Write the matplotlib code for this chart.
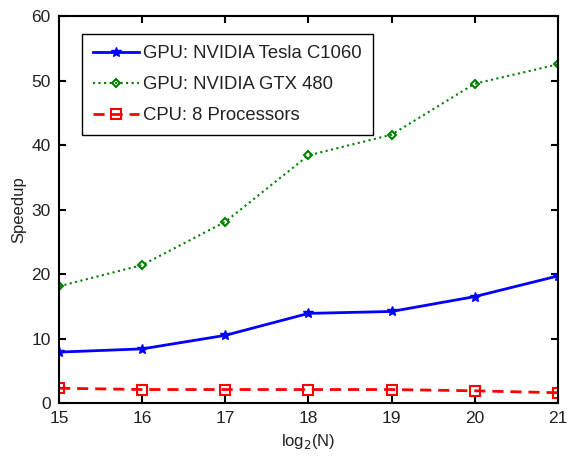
import matplotlib
matplotlib.use('Agg')
import matplotlib.pyplot as plt

plt.rcParams['font.family'] = ['Liberation Sans', 'DejaVu Sans']

log2n = [15, 16, 17, 18, 19, 20, 21]
tesla = [7.9, 8.4, 10.5, 13.9, 14.2, 16.5, 19.7]
gtx480 = [18.1, 21.4, 28.1, 38.4, 41.6, 49.5, 52.5]
cpu8 = [2.3, 2.1, 2.1, 2.1, 2.1, 1.9, 1.6]

fig = plt.figure(figsize=(5.68, 4.57), dpi=100)
ax = fig.add_axes([0.104, 0.118, 0.878, 0.847])

ax.plot(log2n, tesla, color='blue', lw=2, marker='*', ms=7,
        label='GPU: NVIDIA Tesla C1060')
ax.plot(log2n, gtx480, color='green', lw=1.5, ls=':', marker='D', ms=4,
        mfc='none', mew=1.5, label='GPU: NVIDIA GTX 480')
ax.plot(log2n, cpu8, color='red', lw=2, ls=(0, (4, 2.5)), marker='s', ms=7,
        mfc='none', mew=1.5, label='CPU: 8 Processors')

ax.set_xlim(15, 21)
ax.set_ylim(0, 60)
ax.set_xticks(log2n)
ax.set_yticks(range(0, 61, 10))
ax.tick_params(direction='in', top=True, right=True, length=5, width=1.5,
               labelsize=12.5, pad=6, labelcolor='#222222')
for s in ax.spines.values():
    s.set_linewidth(1.5)
ax.set_xlabel('log$_2$(N)', fontsize=12, color='#222222')
ax.set_ylabel('Speedup', fontsize=12, color='#222222')

leg = ax.legend(loc='upper left', bbox_to_anchor=(0.046, 0.953), fontsize=13.3,
                fancybox=False, edgecolor='black', framealpha=1,
                handlelength=2.5, handletextpad=0.2, borderpad=0.6,
                borderaxespad=0, labelspacing=0.75)
leg.get_frame().set_linewidth(1)
for t in leg.get_texts():
    t.set_color('#222222')

fig.savefig('out.png', dpi=100)
